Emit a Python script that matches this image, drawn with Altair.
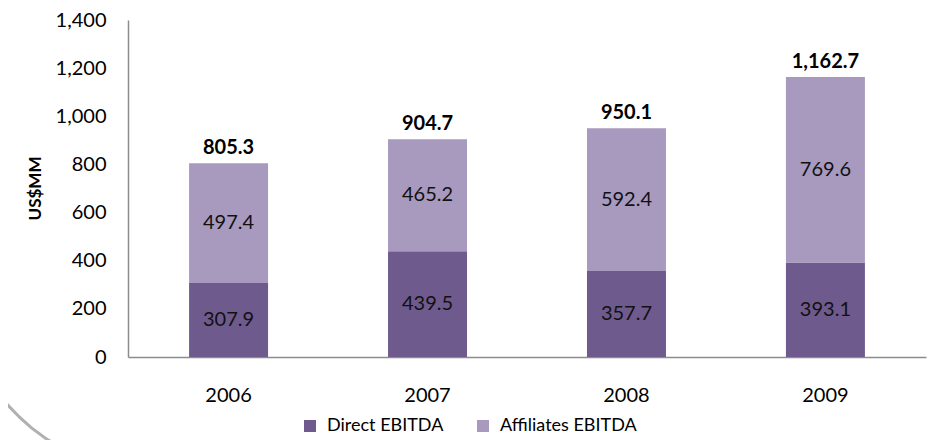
import altair as alt
import pandas as pd

years = ["2006", "2007", "2008", "2009"]
direct = [307.9, 439.5, 357.7, 393.1]
affiliates = [497.4, 465.2, 592.4, 769.6]
totals = [805.3, 904.7, 950.1, 1162.7]
series = ["Direct EBITDA", "Affiliates EBITDA"]
colors = ["#6F5A8E", "#A89ABF"]
y_ticks = [0, 200, 400, 600, 800, 1000, 1200, 1400]

rows = []
for i, yr in enumerate(years):
    rows.append({"year": yr, "series": series[0], "value": direct[i], "ord": 0})
    rows.append({"year": yr, "series": series[1], "value": affiliates[i], "ord": 1})
df = pd.DataFrame(rows)
tot = pd.DataFrame({"year": years, "total": totals})

FONT = "Lato"

xenc = alt.X(
    "year:N", title=None, sort=years,
    scale=alt.Scale(paddingInner=0.603, paddingOuter=0.307),
    axis=alt.Axis(labelAngle=0, ticks=False, domainColor="#8c8c8c", domainWidth=1.5,
                  labelFontSize=20, labelFont=FONT, labelColor="#000000", labelPadding=28),
)
yscale = alt.Scale(domain=[0, 1400], nice=False)

bars = alt.Chart(df).mark_bar().encode(
    x=xenc,
    y=alt.Y("value:Q", stack="zero", scale=yscale,
            axis=alt.Axis(values=y_ticks, format=",.0f", grid=False, ticks=False,
                          domainColor="#8c8c8c", domainWidth=1.5, labelPadding=22,
                          labelFontSize=20, labelFont=FONT, labelColor="#000000",
                          title="US$MM", titleFont=FONT, titleFontSize=17,
                          titleFontWeight="bold", titleColor="#000000",
                          titleX=-93, titleY=168, titleAngle=-90,
                          titleAlign="center", titleBaseline="middle")),
    color=alt.Color("series:N", scale=alt.Scale(domain=series, range=colors),
                    legend=alt.Legend(orient="none", legendX=173, legendY=397,
                                      direction="horizontal", title=None,
                                      symbolType="square", symbolSize=144,
                                      symbolStrokeWidth=0, labelFont=FONT,
                                      labelFontSize=18, labelColor="#000000",
                                      labelOffset=8, columnPadding=30)),
    order=alt.Order("ord:Q", sort="ascending"),
)

seg_labels = alt.Chart(df).transform_stack(
    stack="value", as_=["y0", "y1"], groupby=["year"],
    sort=[alt.SortField("ord", order="ascending")],
).transform_calculate(
    mid="(datum.y0 + datum.y1) / 2",
    lab="format(datum.value, '.1f')",
).mark_text(font=FONT, fontSize=20, color="#111111", baseline="middle").encode(
    x=alt.X("year:N", sort=years),
    y=alt.Y("mid:Q", scale=yscale),
    text="lab:N",
)

tot_labels = alt.Chart(tot).transform_calculate(
    lab="format(datum.total, ',.1f')"
).mark_text(font=FONT, fontSize=20, fontWeight="bold", color="#000000",
            baseline="bottom", dy=-5).encode(
    x=alt.X("year:N", sort=years),
    y=alt.Y("total:Q", scale=yscale),
    text="lab:N",
)

arc = alt.Chart(pd.DataFrame({"a": [0]})).mark_arc(color="#B0B0B0").encode(
    x=alt.value(32), y=alt.value(250),
    radius=alt.value(205), radius2=alt.value(202),
    theta=alt.value(3.3), theta2=alt.value(4.7),
)

chart = alt.layer(arc, bars, seg_labels, tot_labels).properties(
    width=798, height=337,
    padding={"left": 120, "top": 12, "right": 4, "bottom": 95},
    autosize=alt.AutoSizeParams(type="none"),
).configure_view(stroke=None)

chart.save("out.html", embed_options={"renderer": "svg", "actions": False})
